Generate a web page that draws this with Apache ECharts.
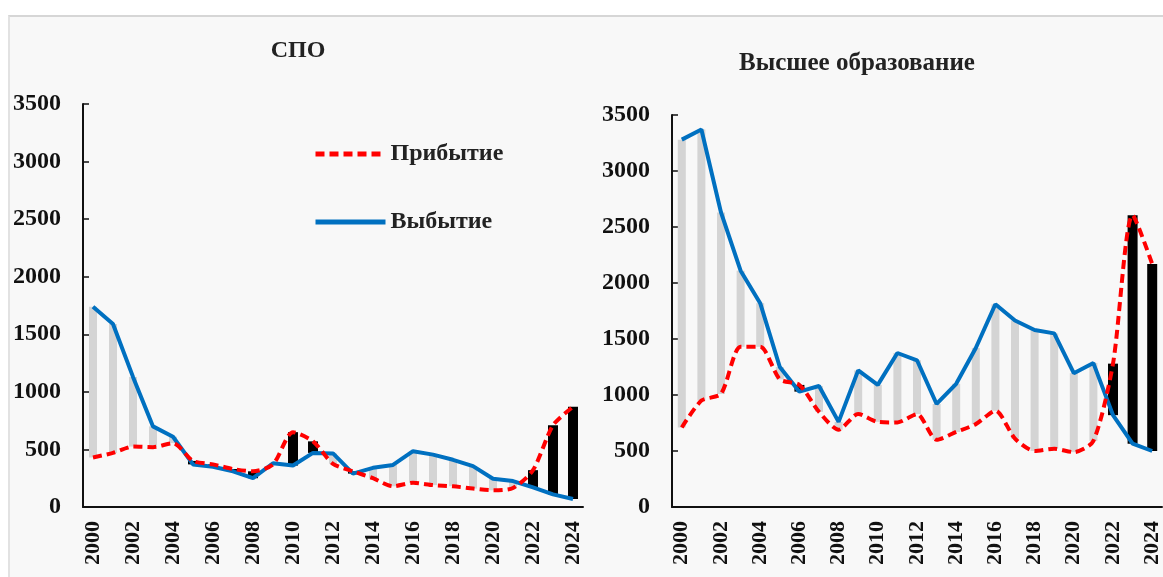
<!DOCTYPE html>
<html>
<head>
<meta charset="utf-8">
<script src="https://cdn.jsdelivr.net/npm/echarts@6/dist/echarts.min.js"></script>
<style>
html,body{margin:0;padding:0;background:#ffffff;width:1163px;height:577px;overflow:hidden;}
#frame{position:absolute;left:8px;top:15px;width:1200px;height:600px;background:#f8f8f8;border-top:2px solid #d6d6d6;border-left:2px solid #e2e2e2;}
#chart{position:absolute;left:0;top:0;width:1163px;height:577px;}
</style>
</head>
<body>
<div id="frame"></div>
<div id="chart"></div>
<script>
// ---- data ----
const years = ['2000','2001','2002','2003','2004','2005','2006','2007','2008','2009','2010','2011','2012','2013','2014','2015','2016','2017','2018','2019','2020','2021','2022','2023','2024'];
const spoArrivals   = [430, 470, 525, 520, 555, 400, 370, 330, 310, 370, 650, 570, 375, 310, 250, 180, 210, 190, 180, 160, 145, 165, 320, 710, 870];
const spoDepartures = [1740, 1590, 1130, 700, 610, 370, 350, 310, 250, 380, 360, 470, 465, 290, 340, 365, 485, 455, 410, 355, 245, 225, 170, 110, 70];
const heArrivals    = [710, 950, 1010, 1430, 1430, 1140, 1090, 850, 690, 830, 760, 755, 830, 600, 670, 740, 860, 610, 500, 520, 490, 590, 1280, 2605, 2170];
const heDepartures  = [3280, 3370, 2630, 2110, 1820, 1250, 1030, 1080, 760, 1220, 1090, 1375, 1310, 920, 1100, 1420, 1810, 1665, 1580, 1550, 1195, 1285, 820, 565, 500];
const yTicks = [0, 500, 1000, 1500, 2000, 2500, 3000, 3500];
const titles = ['СПО', 'Высшее образование'];
const seriesNames = ['Прибытие', 'Выбытие'];

const FONT = "'Liberation Serif','Times New Roman',serif";

function rangeData(arr, dep) {
  return arr.map((a, i) => [i, Math.min(a, dep[i]), Math.max(a, dep[i]), a > dep[i] ? 1 : 0]);
}
function renderBar(params, api) {
  const i = api.value(0), lo = api.value(1), hi = api.value(2), up = api.value(3);
  const p1 = api.coord([i, hi]);
  const p2 = api.coord([i, lo]);
  const w = up ? 10 : 8;
  return {
    type: 'rect',
    shape: { x: p1[0] - w / 2, y: p1[1], width: w, height: Math.max(p2[1] - p1[1], 1) },
    style: { fill: up ? '#000000' : '#d4d4d4' }
  };
}

const grids = [
  { left: 83, right: 580, top: 104, bottom: 70 },
  { left: 672, right: -9, top: 115, bottom: 70 }
];

function xAxis(idx) {
  return {
    type: 'category', gridIndex: idx, data: years, boundaryGap: true,
    axisLine: { lineStyle: { color: '#111', width: 2 } },
    axisTick: { inside: true, interval: 0, length: 6, lineStyle: { color: '#111', width: 1.5 } },
    axisLabel: { interval: 1, rotate: 90, color: '#111', fontFamily: FONT, fontWeight: 'bold', fontSize: 22, margin: 14 }
  };
}
function yAxis(idx) {
  return {
    type: 'value', gridIndex: idx, min: yTicks[0], max: yTicks[yTicks.length - 1], interval: yTicks[1] - yTicks[0],
    axisLine: { show: true, lineStyle: { color: '#111', width: 2 } },
    axisTick: { show: true, inside: true, length: 6, lineStyle: { color: '#111', width: 1.5 } },
    splitLine: { show: false },
    axisLabel: { color: '#111', fontFamily: FONT, fontWeight: 'bold', fontSize: 24, margin: 22, formatter: v => String(v) }
  };
}

function panelSeries(idx, arr, dep) {
  return [
    {
      type: 'custom', xAxisIndex: idx, yAxisIndex: idx, renderItem: renderBar,
      data: rangeData(arr, dep), encode: { x: 0, y: [1, 2] }, z: 1, silent: true
    },
    {
      name: seriesNames[0], type: 'line', xAxisIndex: idx, yAxisIndex: idx, data: arr,
      symbol: 'none', smooth: 0.25, z: 3,
      lineStyle: { color: '#ff0000', width: 4, type: [9, 5] }, itemStyle: { color: '#ff0000' }
    },
    {
      name: seriesNames[1], type: 'line', xAxisIndex: idx, yAxisIndex: idx, data: dep,
      symbol: 'none', z: 2,
      lineStyle: { color: '#0070c0', width: 4 }, itemStyle: { color: '#0070c0' }
    }
  ];
}

const chart = echarts.init(document.getElementById('chart'), null, { renderer: 'canvas' });
chart.setOption({
  animation: false,
  backgroundColor: 'transparent',
  grid: grids,
  xAxis: [xAxis(0), xAxis(1)],
  yAxis: [yAxis(0), yAxis(1)],
  legend: {
    data: seriesNames, orient: 'vertical', left: 308, top: 137,
    itemWidth: 70, itemHeight: 14, itemGap: 44,
    itemStyle: { opacity: 0 },
    lineStyle: { width: 5 },
    textStyle: { fontFamily: FONT, fontWeight: 'bold', fontSize: 24, color: '#222', padding: [0, 0, 0, 0] }
  },
  graphic: [
    { type: 'text', x: 298, y: 51, style: { text: titles[0], font: "bold 24px " + FONT, fill: '#222', textAlign: 'center', textVerticalAlign: 'middle' } },
    { type: 'text', x: 857, y: 64, style: { text: titles[1], font: "bold 25px " + FONT, fill: '#222', textAlign: 'center', textVerticalAlign: 'middle' } }
  ],
  series: [...panelSeries(0, spoArrivals, spoDepartures), ...panelSeries(1, heArrivals, heDepartures)]
});
</script>
</body>
</html>
